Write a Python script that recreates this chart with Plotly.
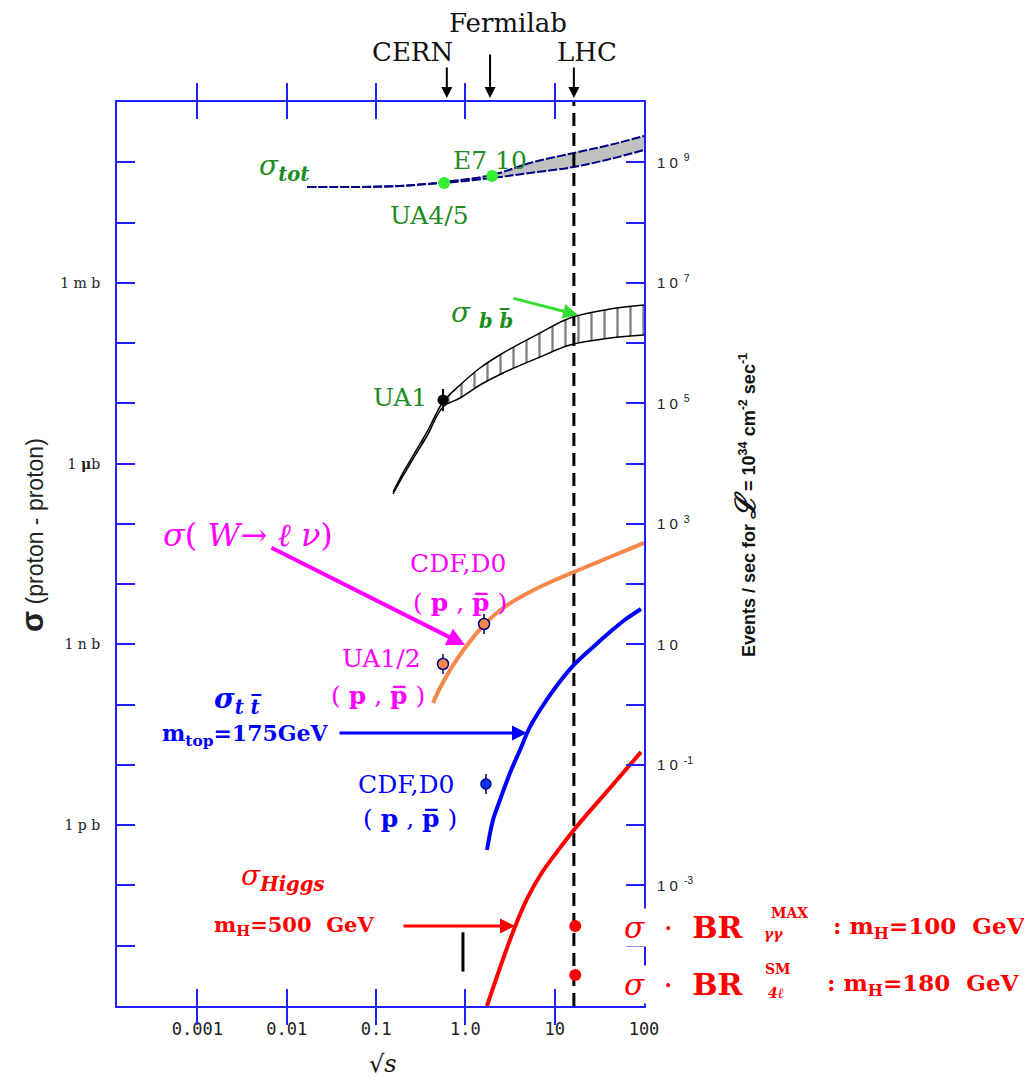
import math
import plotly.graph_objects as go

# ---------------- data (sqrt(s) in TeV, cross sections in mb) ----------------
# total cross section band
tot_x = [0.0169, 0.066, 0.185, 0.372, 0.577, 1.99, 5.29, 16.4, 41.6, 100]
tot_lo = [38.9, 38.9, 40.4, 43.6, 45.3, 54.9, 66.4, 83.6, 113, 160]
tot_hi = [38.9, 38.9, 40.4, 43.6, 47.1, 61.5, 97.3, 143, 194, 273]
tot_pts_x = [0.58, 1.99]          # UA4/5, E710
tot_pts_y = [45.3, 59.0]

# b-bbar band
bb_x = [0.155, 0.2004, 0.259, 0.372, 0.562, 0.871, 1.459, 2.64, 6.85, 14.8, 41.6, 100]
bb_hi = [3.38e-4, 6.99e-4, 1.34e-3, 3.35e-3, 0.01053, 0.02016, 0.0386, 0.0684, 0.147, 0.261, 0.367, 0.4285]
bb_lo = [3.13e-4, 6.23e-4, 1.19e-3, 2.87e-3, 0.00870, 0.01227, 0.02016, 0.0319, 0.0587, 0.0929, 0.121, 0.136]
ua1_x = [0.562]
ua1_y = [0.01137]
ua1_hi = [0.0173]
ua1_lo = [0.00747]

# W -> l nu
w_x = [0.4345, 0.520, 0.708, 0.991, 1.575, 2.64, 5.29, 10.1, 16.4, 41.6, 100]
w_y = [1.07e-7, 1.89e-7, 4.23e-7, 8.73e-7, 2.02e-6, 4.02e-6, 7.41e-6, 1.172e-5, 1.59e-5, 2.82e-5, 4.82e-5]
w_pts_x = [0.562, 1.62]           # UA1/2, CDF/D0
w_pts_y = [4.73e-7, 2.18e-6]
w_pts_hi = [6.93e-7, 3.19e-6]
w_pts_lo = [3.23e-7, 1.49e-6]

# t-tbar
tt_x = [1.746, 2.039, 2.44, 3.16, 4.09, 5.29, 6.85, 10.1, 16.4, 26.2, 41.6, 62.9, 92.6]
tt_y = [3.88e-10, 1.22e-9, 2.62e-9, 7.36e-9, 1.77e-8, 4.27e-8, 8.17e-8, 1.89e-7, 4.56e-7,
        8.73e-7, 1.607e-6, 2.64e-6, 3.87e-6]
tt_pts_x = [1.70]
tt_pts_y = [4.83e-9]
tt_pts_hi = [7.07e-9]
tt_pts_lo = [3.30e-9]

# Higgs (mH = 500 GeV)
h_x = [1.746, 2.44, 3.41, 4.90, 7.03, 10.6, 16.4, 41.6, 92.6]
h_y = [1.0e-12, 4.28e-12, 1.69e-11, 5.97e-11, 1.55e-10, 3.60e-10, 8.34e-10, 4.15e-9, 1.64e-8]
h_pts_x = [17, 17]
h_pts_y = [2.13e-11, 3.27e-12]
bar_x = [0.94]
bar_y = [7.88e-12]

# machines
CERN_E, FNAL_E, LHC_E = 0.62, 1.89, 16.4

# axis ticks
x_tickvals = [0.001, 0.01, 0.1, 1, 10, 100]
x_ticktext = ["0.001", "0.01", "0.1", "1.0", "10", "100"]
y_tickvals = [10.0 ** k for k in range(-12, 4)]
y_named = {0: "1 m b", -3: "1 <b>μ</b>b", -6: "1 n b", -9: "1 p b"}
y_ticktext = [y_named.get(k, "") for k in range(-12, 4)]
ev_tickvals = [1e9, 1e7, 1e5, 1e3, 1e1, 1e-1, 1e-3]
ev_ticktext = ["1 0<sup>  9</sup>", "1 0<sup>  7</sup>", "1 0<sup>  5</sup>", "1 0<sup>  3</sup>",
               "1 0", "1 0<sup>  -1</sup>", "1 0<sup>  -3</sup>"]

# ---------------- geometry helpers (screen pixel -> paper) ----------------
OFF = 8                       # page body margin
FW, FH = 1032 - OFF, 1082 - OFF
L, R, T, B = 117, 644, 102, 1006


def px(x):
    return (x - L) / (R - L)


def py(y):
    return (B - y) / (B - T)


SERIF = "DejaVu Serif"
GREEN = "#1e8c1e"
MAG = "#ff00ff"
ORANGE = "#f5884a"
NAVY = "#000080"


def txt(text, x, y, size, color, family=SERIF, xanchor="center", **kw):
    d = dict(text=text, x=px(x), y=py(y), xref="paper", yref="paper", showarrow=False,
             font=dict(size=size, color=color, family=family), xanchor=xanchor, yanchor="middle")
    d.update(kw)
    return d


def arrow(x0, y0, x1, y1, color, width, size=1.0):
    return dict(text="", x=px(x1), y=py(y1), xref="paper", yref="paper",
                ax=x0 - x1, ay=y0 - y1, axref="pixel", ayref="pixel", showarrow=True,
                arrowhead=2, arrowsize=size, arrowwidth=width, arrowcolor=color,
                standoff=0, startstandoff=0)


def vline_arrow(E, y0, y1):
    return dict(text="", x=math.log10(E), y=py(y1), xref="x", yref="paper",
                ax=0, ay=y0 - y1, axref="pixel", ayref="pixel", showarrow=True,
                arrowhead=2, arrowsize=1.1, arrowwidth=2, arrowcolor="black",
                standoff=0, startstandoff=0)


fig = go.Figure()

# sigma_tot band
fig.add_trace(go.Scatter(x=tot_x, y=tot_lo, mode="lines",
                         line=dict(color=NAVY, width=2, dash="9px,2px", shape="spline"),
                         hoverinfo="skip"))
fig.add_trace(go.Scatter(x=tot_x, y=tot_hi, mode="lines",
                         line=dict(color=NAVY, width=2, dash="9px,2px", shape="spline"),
                         fill="tonexty", fillcolor="#c0c0c0", hoverinfo="skip"))
fig.add_trace(go.Scatter(x=tot_pts_x, y=tot_pts_y, mode="markers",
                         marker=dict(color="#33ee33", size=12)))

# b-bbar band
fig.add_trace(go.Scatter(x=bb_x, y=bb_lo, mode="lines",
                         line=dict(color="black", width=1.5, shape="spline"), hoverinfo="skip"))
fig.add_trace(go.Scatter(x=bb_x, y=bb_hi, mode="lines",
                         line=dict(color="black", width=1.5, shape="spline"), fill="tonexty",
                         fillcolor="white",
                         fillpattern=dict(shape="|", size=13, solidity=0.18,
                                          fgcolor="black", bgcolor="white"),
                         hoverinfo="skip"))
fig.add_trace(go.Scatter(x=ua1_x, y=ua1_y, mode="markers",
                         marker=dict(color="black", size=11),
                         error_y=dict(type="data", symmetric=False,
                                      array=[h - v for h, v in zip(ua1_hi, ua1_y)],
                                      arrayminus=[v - l for l, v in zip(ua1_lo, ua1_y)],
                                      color="black", thickness=2, width=0)))

# LHC dashed line
fig.add_trace(go.Scatter(x=[LHC_E, LHC_E], y=[1e-12, 1e3], mode="lines",
                         line=dict(color="black", width=3, dash="13px,7px"), hoverinfo="skip"))

# W
fig.add_trace(go.Scatter(x=w_x, y=w_y, mode="lines",
                         line=dict(color=ORANGE, width=4, shape="spline")))
fig.add_trace(go.Scatter(x=w_pts_x, y=w_pts_y, mode="markers",
                         marker=dict(color=ORANGE, size=11, line=dict(color=NAVY, width=1.5)),
                         error_y=dict(type="data", symmetric=False,
                                      array=[h - v for h, v in zip(w_pts_hi, w_pts_y)],
                                      arrayminus=[v - l for l, v in zip(w_pts_lo, w_pts_y)],
                                      color=NAVY, thickness=1.5, width=0)))

# t-tbar
fig.add_trace(go.Scatter(x=tt_x, y=tt_y, mode="lines",
                         line=dict(color="#0000ff", width=4, shape="spline")))
fig.add_trace(go.Scatter(x=tt_pts_x, y=tt_pts_y, mode="markers",
                         marker=dict(color="#1030ff", size=10, line=dict(color=NAVY, width=1.5)),
                         error_y=dict(type="data", symmetric=False,
                                      array=[h - v for h, v in zip(tt_pts_hi, tt_pts_y)],
                                      arrayminus=[v - l for l, v in zip(tt_pts_lo, tt_pts_y)],
                                      color=NAVY, thickness=1.5, width=0)))

# Higgs
fig.add_trace(go.Scatter(x=h_x, y=h_y, mode="lines",
                         line=dict(color="#ff0000", width=4, shape="spline")))
fig.add_trace(go.Scatter(x=h_pts_x, y=h_pts_y, mode="markers",
                         marker=dict(color="#ff0000", size=12)))
fig.add_trace(go.Scatter(x=bar_x, y=bar_y, mode="markers",
                         marker=dict(symbol="line-ns-open", size=28, color="black",
                                     line=dict(color="black", width=3))))

# invisible trace for right axis
fig.add_trace(go.Scatter(x=[1], y=[1e5], yaxis="y2", mode="markers",
                         marker=dict(opacity=0), hoverinfo="skip"))

annotations = [
    # top machines
    txt("Fermilab", 508, 23, 26, "#111"),
    txt("CERN", 412, 52, 26, "#111"),
    txt("LHC", 587, 52, 26, "#111"),
    vline_arrow(CERN_E, 66, 98),
    vline_arrow(FNAL_E, 53, 98),
    vline_arrow(LHC_E, 66, 98),
    # sigma tot
    txt("<i>σ</i><sub><i><b>tot</b></i></sub>", 284, 167, 28, GREEN),
    txt("E7 10", 490, 160, 25, GREEN),
    txt("UA4/5", 429, 215, 25, GREEN),
    # bbbar
    txt("UA1", 400, 398, 25, GREEN),
    txt("<i>σ</i> <sub><i><b>b b\u0305</b></i></sub>", 482, 315, 28, GREEN),
    arrow(512, 298, 578, 315, "#33dd33", 3),
    # W
    txt("<i>σ</i>( <i>W</i>→ <i>ℓ ν</i>)", 248, 535, 32, MAG),
    arrow(270, 547, 465, 645, MAG, 4, 0.9),
    txt("CDF,D0", 458, 563, 25, MAG),
    txt("( <b>p</b> , <b>p\u0305</b> )", 460, 602, 25, MAG),
    txt("UA1/2", 381, 658, 25, MAG),
    txt("( <b>p</b> , <b>p\u0305</b> )", 378, 695, 25, MAG),
    # ttbar
    txt("<i><b>σ</b></i><sub><i><b>t t\u0305</b></i></sub>", 237, 700, 28, "#0000ff"),
    txt("<b>m<sub>top</sub>=175GeV</b>", 245, 735, 22, "#0000ff"),
    arrow(338, 733, 527, 733, "#0000ff", 3),
    txt("CDF,D0", 406, 784, 25, "#0000ff"),
    txt("( <b>p</b> , <b>p\u0305</b> )", 410, 818, 25, "#0000ff"),
    # Higgs
    txt("<i>σ</i><sub><i><b>Higgs</b></i></sub>", 283, 877, 28, "#ff0000"),
    txt("<b>m<sub>H</sub>=500  GeV</b>", 294, 925, 21, "#ff0000"),
    arrow(402, 926, 515, 926, "#ff0000", 3),
    txt("<i>σ</i>  ·  <b>BR</b>", 622, 927, 30, "#ff0000", xanchor="left", bgcolor="white"),
    txt("<b>MAX</b>", 789, 913, 14, "#ff0000"),
    txt("<b><i>γγ</i></b>", 773, 934, 14, "#ff0000"),
    txt("<b>: m<sub>H</sub>=100  GeV</b>", 831, 927, 23, "#ff0000", xanchor="left"),
    txt("<i>σ</i>  ·  <b>BR</b>", 622, 984, 30, "#ff0000", xanchor="left", bgcolor="white"),
    txt("<b>SM</b>", 778, 969, 14, "#ff0000"),
    txt("<b><i>4ℓ</i></b>", 776, 993, 14, "#ff0000"),
    txt("<b>: m<sub>H</sub>=180  GeV</b>", 825, 984, 23, "#ff0000", xanchor="left"),
    # axis titles
    txt("<span style='font-size:31px'><b>σ</b></span> (proton - proton)", 32, 535, 23, "#222",
        family="Liberation Sans", textangle=-90),
    txt("<b>Events / sec for <span style='font-size:28px'><i>ℒ</i></span> = 10<sup>34</sup> cm<sup>-2</sup> sec<sup>-1</sup></b>",
        745, 505, 18, "#111", family="Liberation Sans", textangle=-90),
    txt("√<i>s</i>", 383, 1064, 24, "#111"),
]

fig.update_layout(
    width=FW, height=FH,
    margin=dict(l=L - OFF, r=FW - (R - OFF), t=T - OFF, b=FH - (B - OFF)),
    paper_bgcolor="white", plot_bgcolor="white",
    showlegend=False,
    xaxis=dict(type="log", range=[-3.9, 2], tickvals=x_tickvals, ticktext=x_ticktext,
               ticks="inside", ticklen=17, tickwidth=2, tickcolor="#1f1fff",
               showline=True, linecolor="#1f1fff", linewidth=2, mirror="allticks",
               showgrid=False, zeroline=False, ticklabelstandoff=7,
               tickfont=dict(family="DejaVu Sans Mono", size=17, color="#222")),
    yaxis=dict(type="log", range=[-12, 3], tickvals=y_tickvals, ticktext=y_ticktext,
               ticks="inside", ticklen=18, tickwidth=2, tickcolor="#1f1fff",
               showline=True, linecolor="#1f1fff", linewidth=2, mirror="allticks",
               showgrid=False, zeroline=False, ticklabelstandoff=12,
               tickfont=dict(family=SERIF, size=14, color="#222")),
    yaxis2=dict(type="log", range=[-5, 10], overlaying="y", side="right",
                tickvals=ev_tickvals, ticktext=ev_ticktext, ticks="",
                showline=False, showgrid=False, zeroline=False, ticklabelstandoff=12,
                tickfont=dict(family="Liberation Sans", size=15, color="#222")),
    annotations=annotations,
)

fig.write_html("out.html")
